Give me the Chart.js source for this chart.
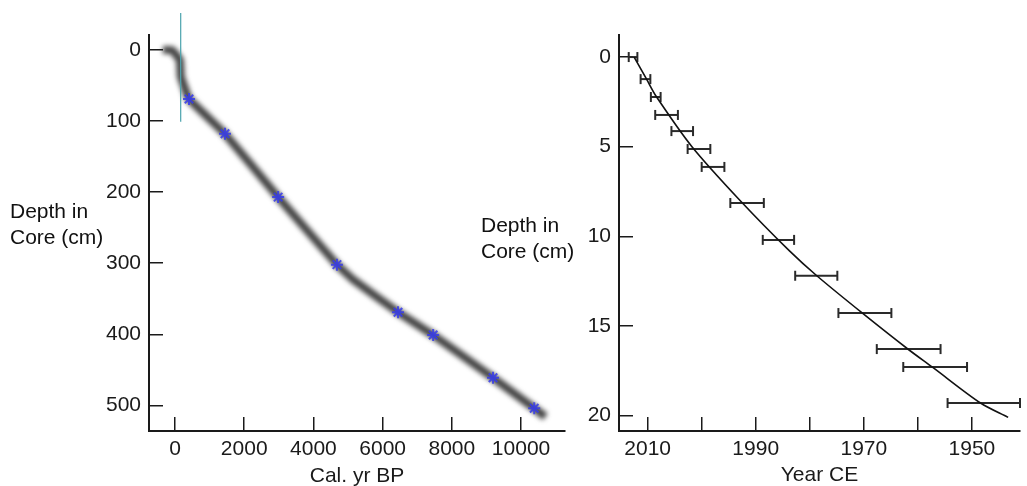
<!DOCTYPE html>
<html>
<head>
<meta charset="utf-8">
<script src="https://cdn.jsdelivr.net/npm/chart.js@4"></script>
<style>
  html, body { margin: 0; padding: 0; background: #fff; overflow: hidden; }
  body { width: 1027px; height: 486px; position: relative; font-family: "Liberation Sans", Arial, sans-serif; }
  .box { position: absolute; top: 0; height: 500px; }
  .ytitle { position: absolute; font-size: 21px; line-height: 26px; color: #111; white-space: nowrap; z-index: 2; }
</style>
</head>
<body>
<div class="box" style="left:0; width:600px;"><canvas id="AgeModel"></canvas></div>
<div class="box" style="left:480px; width:547px;"><canvas id="LeadModel"></canvas></div>
<div class="ytitle" style="left:10px; top:198px;">Depth in<br>Core (cm)</div>
<div class="ytitle" style="left:481px; top:212px;">Depth in<br>Core (cm)</div>
<script>
// left panel: age-depth model (cal. yr BP)
const band_age = [-350, -90, 140, 170, 405, 1445, 2980, 4680, 5145, 6445, 7460, 9190, 10380, 10700];
const band_depth = [0, 0, 14, 38, 69, 118, 207, 302, 323, 369, 401, 461, 504, 516];
const dated_age = [405, 1445, 2980, 4680, 6445, 7460, 9190, 10380];
const dated_depth = [69, 118, 207, 302, 369, 401, 461, 504];
const marker_age = [165, 165];
const marker_depth = [-52, 101];
const age_ticks = [0, 2000, 4000, 6000, 8000, 10000];
const depth_ticks = [0, 100, 200, 300, 400, 500];

// right panel: recent sediment (year CE)
const curve_year = [2012.5, 2010.2, 2008.4, 2001.8, 1992.9, 1983.8, 1978.7, 1970.2, 1961.8, 1957.3, 1948.4, 1943.3];
const curve_depth = [0, 1.23, 2.2, 5, 8, 10.8, 12.2, 14.3, 16.3, 17.3, 19.3, 20.1];
const bar_year = [2012.7, 2010.4, 2008.5, 2006.5, 2003.6, 2000.5, 1997.9, 1991.6, 1985.8, 1978.8, 1969.8, 1961.7, 1956.8, 1947.8];
const bar_err = [0.8, 0.9, 0.9, 2.1, 2.0, 2.1, 2.1, 3.1, 2.9, 3.9, 4.9, 5.9, 5.9, 6.7];
const bar_depth = [0, 1.23, 2.23, 3.23, 4.13, 5.13, 6.13, 8.14, 10.2, 12.2, 14.28, 16.29, 17.29, 19.3];
const year_ticks = [2010, 2000, 1990, 1980, 1970, 1960, 1950];
const year_labels = ['2010', '', '1990', '', '1970', '', '1950'];
const cm_ticks = [0, 5, 10, 15, 20];

const pts = (xs, ys) => xs.map((x, i) => ({x: x, y: ys[i]}));

const font = {family: '"Liberation Sans", Arial, sans-serif', size: 21};
const ink = '#1a1a1a';

// soft edge on the model band
const blurBand = {
    id: 'blurBand',
    beforeDatasetDraw(chart, args) {
        if (chart.data.datasets[args.index].blur) {
            chart.ctx.save();
            chart.ctx.filter = 'blur(' + chart.data.datasets[args.index].blur + 'px)';
        }
    },
    afterDatasetDraw(chart, args) {
        if (chart.data.datasets[args.index].blur) {
            chart.ctx.restore();
        }
    }
};

function axis(min, max, values, pad, extra) {
    return Object.assign({
        type: 'linear',
        min: min,
        max: max,
        afterBuildTicks: (s) => { s.ticks = values.map(v => ({value: v})); },
        border: {display: true, color: ink, width: 2},
        grid: {display: true, drawOnChartArea: false, drawTicks: true, tickLength: -14, color: ink, lineWidth: 1.5},
        ticks: {
            padding: pad, autoSkip: false, maxRotation: 0, color: ink, font: font,
            callback: (value) => String(value),
        },
    }, extra);
}

Chart.defaults.animation = false;

new Chart(
    document.getElementById('AgeModel'),
    {
        type: 'line',
        data: {
            datasets: [
                {
                    label: 'dated',
                    data: pts(dated_age, dated_depth),
                    showLine: false,
                    pointStyle: 'star',
                    pointRadius: 6,
                    borderWidth: 2,
                    borderColor: 'rgba(55,60,235,0.85)',
                    backgroundColor: 'rgba(55,60,235,0.85)',
                },
                {
                    label: 'marker',
                    data: pts(marker_age, marker_depth),
                    borderColor: '#4aa3ad',
                    borderWidth: 1.2,
                    pointRadius: 0,
                    clip: false,
                },
                {
                    label: 'model',
                    data: pts(band_age, band_depth),
                    borderColor: 'rgba(45,45,45,0.9)',
                    borderWidth: 8,
                    pointRadius: 0,
                    tension: 0.05,
                    blur: 2.5,
                },
            ]
        },
        options: {
            responsive: true,
            maintainAspectRatio: false,
            layout: {padding: {left: 0, right: 35, top: 35, bottom: 0}},
            plugins: {legend: {display: false}, tooltip: {enabled: false}},
            scales: {
                x: axis(-751, 11270, age_ticks, 20, {
                    position: 'bottom',
                    title: {display: true, text: 'Cal. yr BP', color: ink, font: font, padding: {top: 0, bottom: 11}},
                    afterFit: (s) => { s.height = 69; },
                }),
                y: axis(-21, 536, depth_ticks, 22, {
                    position: 'left',
                    reverse: true,
                    afterFit: (s) => { s.width = 149; },
                }),
            }
        },
        plugins: [blurBand]
    }
);

const errorBars = bar_year.map((yr, i) => ({
    data: [{x: yr - bar_err[i], y: bar_depth[i]}, {x: yr + bar_err[i], y: bar_depth[i]}],
    borderColor: '#2a2a2a',
    backgroundColor: '#2a2a2a',
    borderWidth: 2,
    pointStyle: 'line',
    rotation: 90,
    pointRadius: 5,
    pointBorderWidth: 2,
    clip: false,
}));

const yearAxis = axis(1941.1, 2015.3, year_ticks, 20, {
    position: 'bottom',
    reverse: true,
    title: {display: true, text: 'Year CE', color: ink, font: font, padding: {top: 0, bottom: 12}},
    afterFit: (s) => { s.height = 69; },
});
yearAxis.ticks.callback = (value, index) => year_labels[index];

new Chart(
    document.getElementById('LeadModel'),
    {
        type: 'line',
        data: {
            datasets: [
                {
                    label: 'model',
                    data: pts(curve_year, curve_depth),
                    borderColor: '#111',
                    borderWidth: 1.6,
                    pointRadius: 0,
                    tension: 0.3,
                },
            ].concat(errorBars)
        },
        options: {
            responsive: true,
            maintainAspectRatio: false,
            layout: {padding: {left: 0, right: 0, top: 35, bottom: 0}},
            plugins: {legend: {display: false}, tooltip: {enabled: false}},
            scales: {
                x: yearAxis,
                y: axis(-1.23, 20.86, cm_ticks, 22, {
                    position: 'left',
                    reverse: true,
                    afterFit: (s) => { s.width = 139; },
                }),
            }
        }
    }
);
</script>
</body>
</html>
